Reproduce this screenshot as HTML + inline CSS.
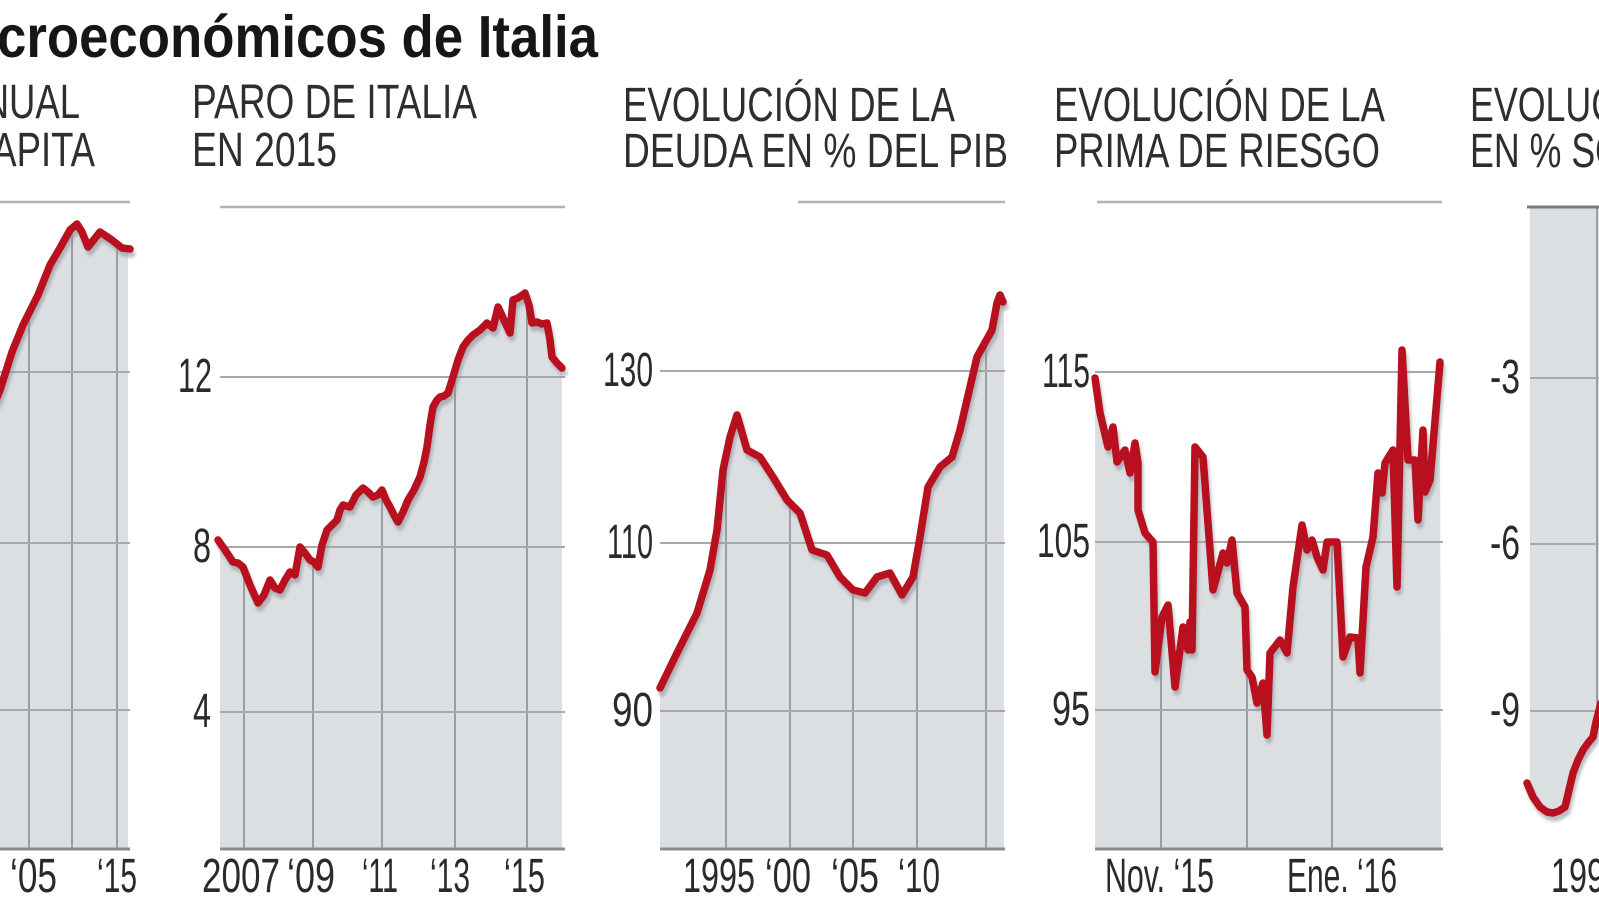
<!DOCTYPE html>
<html>
<head>
<meta charset="utf-8">
<style>
  html, body { margin:0; padding:0; background:#ffffff; }
  svg { display:block; }
  text { font-family: "Liberation Sans", sans-serif; }
  .ttl { font-weight:bold; font-size:59px; fill:#161616; }
  .sub { font-size:48px; fill:#2e2e2e; }
  .tk  { font-size:48px; fill:#2a2a2a; }
  .fill { fill:#dcdfe2; }
  .hg { stroke:#a6a8ab; stroke-width:2; }
  .vg { stroke:#9a9ea3; stroke-width:2; }
  .base { stroke:#8a8c8f; stroke-width:3; }
  .rule { stroke:#b3b3b3; stroke-width:2.5; }
  .ln { fill:none; stroke:#b8101f; stroke-width:7.5; stroke-linejoin:round; stroke-linecap:round; }
  .sh { fill:none; stroke:#8d9297; stroke-width:7; stroke-linejoin:round; stroke-linecap:round; opacity:0.6; }
</style>
</head>
<body>
<svg width="1599" height="900" viewBox="0 0 1599 900" xmlns="http://www.w3.org/2000/svg">
  <defs>
    <filter id="blur" x="-10%" y="-10%" width="120%" height="120%"><feGaussianBlur stdDeviation="1.6"/></filter>
    <clipPath id="c1"><polygon points="0,849 0,390 12,352 23,325 38,295 50,265 60,248 70,230 77,224 82,232 88,247 100,232 112,240 122,248 128,249 128,849"/></clipPath>
    <clipPath id="c2"><polygon points="220,849 220,543 225,550 233,562 238,563 243,567 250,585 258,603 264,595 270,580 275,588 280,590 285,580 290,572 295,575 300,547 305,553 310,560 314,562 318,567 322,545 327,530 332,525 337,520 340,510 343,505 350,507 356,495 363,488 368,492 373,497 378,495 382,490 386,500 390,507 394,515 398,522 403,512 408,500 414,490 420,477 424,462 427,447 430,425 433,407 437,400 440,397 444,396 448,393 453,377 458,360 463,347 468,340 473,335 480,330 487,323 493,328 498,307 504,320 510,333 513,300 518,298 525,293 529,305 532,323 537,322 542,324 547,323 550,340 552,357 557,363 562,368 562,849"/></clipPath>
    <clipPath id="c3"><polygon points="660,849 660,688 677,653 697,613 710,570 717,530 723,470 730,437 737,415 747,450 760,457 773,477 787,500 800,513 812,550 827,555 840,577 853,590 865,593 877,577 890,573 902,595 913,577 920,537 928,487 940,467 952,457 960,430 977,357 992,330 997,303 1000,295 1004,302 1004,849"/></clipPath>
    <clipPath id="c4"><polygon points="1095,849 1095,378 1100,413 1108,447 1113,427 1117,462 1125,450 1130,473 1135,443 1138,463 1138,510 1145,533 1153,542 1155,672 1162,617 1168,605 1175,687 1183,627 1188,650 1190,622 1192,650 1195,447 1203,457 1213,590 1223,553 1227,563 1232,540 1237,593 1245,607 1247,670 1252,677 1257,703 1263,683 1267,735 1270,653 1280,640 1287,653 1293,587 1302,525 1307,550 1312,540 1317,557 1323,570 1327,542 1337,542 1343,657 1350,637 1358,638 1360,673 1366,567 1373,537 1378,473 1382,493 1385,463 1393,450 1397,587 1402,350 1408,460 1415,460 1418,520 1423,430 1425,492 1430,480 1440,362 1441,849"/></clipPath>
    <clipPath id="c5"><polygon points="1530,207 1599,207 1599,705 1596,722 1593,737 1588,743 1583,750 1578,760 1573,773 1569,790 1565,807 1559,811 1553,813 1547,812 1540,807 1533,797 1530,788"/></clipPath>
  </defs>

  <!-- Title -->
  <text class="ttl" x="-3" y="57" textLength="601" lengthAdjust="spacingAndGlyphs">croeconómicos de Italia</text>

  <!-- Subtitles -->
  <text class="sub" text-anchor="end" transform="translate(80,118) scale(0.76,1)">PIB ANUAL</text>
  <text class="sub" text-anchor="end" transform="translate(95,166) scale(0.76,1)">PER CAPITA</text>

  <text class="sub" x="192" y="118" textLength="285" lengthAdjust="spacingAndGlyphs">PARO DE ITALIA</text>
  <text class="sub" x="192" y="166" textLength="145" lengthAdjust="spacingAndGlyphs">EN 2015</text>

  <text class="sub" x="623" y="121" textLength="332" lengthAdjust="spacingAndGlyphs">EVOLUCIÓN DE LA</text>
  <text class="sub" x="623" y="167" textLength="385" lengthAdjust="spacingAndGlyphs">DEUDA EN % DEL PIB</text>

  <text class="sub" x="1054" y="121" textLength="331" lengthAdjust="spacingAndGlyphs">EVOLUCIÓN DE LA</text>
  <text class="sub" x="1054" y="167" textLength="326" lengthAdjust="spacingAndGlyphs">PRIMA DE RIESGO</text>

  <text class="sub" transform="translate(1470,121) scale(0.745,1)">EVOLUCIÓN DEL DÉFICIT</text>
  <text class="sub" transform="translate(1470,167) scale(0.745,1)">EN % SOBRE EL PIB</text>

  <!-- Top rules -->
  <line class="rule" x1="0" y1="202" x2="130" y2="202"/>
  <line class="rule" x1="220" y1="207" x2="565" y2="207"/>
  <line class="rule" x1="798" y1="202" x2="1005" y2="202"/>
  <line class="rule" x1="1097" y1="202" x2="1442" y2="202"/>

  <!-- ===== Chart 1 ===== -->
  <polygon class="fill" points="0,849 0,390 12,352 23,325 38,295 50,265 60,248 70,230 77,224 82,232 88,247 100,232 112,240 122,248 128,249 128,849"/>
  <g clip-path="url(#c1)">
    <line class="vg" x1="29" y1="200" x2="29" y2="849"/>
    <line class="vg" x1="72" y1="200" x2="72" y2="849"/>
    <line class="vg" x1="117" y1="200" x2="117" y2="849"/>
  </g>
  <line class="hg" x1="0" y1="372" x2="130" y2="372"/>
  <line class="hg" x1="0" y1="543" x2="130" y2="543"/>
  <line class="hg" x1="0" y1="710" x2="130" y2="710"/>
  <line class="base" x1="0" y1="849" x2="130" y2="849"/>
  <polyline class="sh" filter="url(#blur)" transform="translate(2,5)" points="-5,402 0,390 12,352 23,325 38,295 50,265 60,248 70,230 77,224 82,232 88,247 100,232 112,240 122,248 130,249"/>
  <polyline class="ln" points="-5,402 0,390 12,352 23,325 38,295 50,265 60,248 70,230 77,224 82,232 88,247 100,232 112,240 122,248 130,249"/>
  <text class="tk" x="10" y="892" textLength="47" lengthAdjust="spacingAndGlyphs">‘05</text>
  <text class="tk" x="97" y="892" textLength="40" lengthAdjust="spacingAndGlyphs">‘15</text>

  <!-- ===== Chart 2 ===== -->
  <polygon class="fill" points="220,849 220,543 225,550 233,562 238,563 243,567 250,585 258,603 264,595 270,580 275,588 280,590 285,580 290,572 295,575 300,547 305,553 310,560 314,562 318,567 322,545 327,530 332,525 337,520 340,510 343,505 350,507 356,495 363,488 368,492 373,497 378,495 382,490 386,500 390,507 394,515 398,522 403,512 408,500 414,490 420,477 424,462 427,447 430,425 433,407 437,400 440,397 444,396 448,393 453,377 458,360 463,347 468,340 473,335 480,330 487,323 493,328 498,307 504,320 510,333 513,300 518,298 525,293 529,305 532,323 537,322 542,324 547,323 550,340 552,357 557,363 562,368 562,849"/>
  <g clip-path="url(#c2)">
    <line class="vg" x1="244" y1="200" x2="244" y2="849"/>
    <line class="vg" x1="313" y1="200" x2="313" y2="849"/>
    <line class="vg" x1="382" y1="200" x2="382" y2="849"/>
    <line class="vg" x1="455" y1="200" x2="455" y2="849"/>
    <line class="vg" x1="527" y1="200" x2="527" y2="849"/>
  </g>
  <line class="hg" x1="220" y1="377" x2="565" y2="377"/>
  <line class="hg" x1="220" y1="547" x2="565" y2="547"/>
  <line class="hg" x1="220" y1="712" x2="565" y2="712"/>
  <line class="base" x1="220" y1="849" x2="565" y2="849"/>
  <polyline class="sh" filter="url(#blur)" transform="translate(2,5)" points="218,540 225,550 233,562 238,563 243,567 250,585 258,603 264,595 270,580 275,588 280,590 285,580 290,572 295,575 300,547 305,553 310,560 314,562 318,567 322,545 327,530 332,525 337,520 340,510 343,505 350,507 356,495 363,488 368,492 373,497 378,495 382,490 386,500 390,507 394,515 398,522 403,512 408,500 414,490 420,477 424,462 427,447 430,425 433,407 437,400 440,397 444,396 448,393 453,377 458,360 463,347 468,340 473,335 480,330 487,323 493,328 498,307 504,320 510,333 513,300 518,298 525,293 529,305 532,323 537,322 542,324 547,323 550,340 552,357 557,363 562,368"/>
  <polyline class="ln" points="218,540 225,550 233,562 238,563 243,567 250,585 258,603 264,595 270,580 275,588 280,590 285,580 290,572 295,575 300,547 305,553 310,560 314,562 318,567 322,545 327,530 332,525 337,520 340,510 343,505 350,507 356,495 363,488 368,492 373,497 378,495 382,490 386,500 390,507 394,515 398,522 403,512 408,500 414,490 420,477 424,462 427,447 430,425 433,407 437,400 440,397 444,396 448,393 453,377 458,360 463,347 468,340 473,335 480,330 487,323 493,328 498,307 504,320 510,333 513,300 518,298 525,293 529,305 532,323 537,322 542,324 547,323 550,340 552,357 557,363 562,368"/>
  <text class="tk" x="178" y="392" textLength="34" lengthAdjust="spacingAndGlyphs">12</text>
  <text class="tk" x="193" y="562" textLength="18" lengthAdjust="spacingAndGlyphs">8</text>
  <text class="tk" x="193" y="727" textLength="18" lengthAdjust="spacingAndGlyphs">4</text>
  <text class="tk" x="202" y="892" textLength="78" lengthAdjust="spacingAndGlyphs">2007</text>
  <text class="tk" x="287" y="892" textLength="48" lengthAdjust="spacingAndGlyphs">‘09</text>
  <text class="tk" x="362" y="892" textLength="36" lengthAdjust="spacingAndGlyphs">‘11</text>
  <text class="tk" x="430" y="892" textLength="40" lengthAdjust="spacingAndGlyphs">‘13</text>
  <text class="tk" x="504" y="892" textLength="41" lengthAdjust="spacingAndGlyphs">‘15</text>

  <!-- ===== Chart 3 ===== -->
  <polygon class="fill" points="660,849 660,688 677,653 697,613 710,570 717,530 723,470 730,437 737,415 747,450 760,457 773,477 787,500 800,513 812,550 827,555 840,577 853,590 865,593 877,577 890,573 902,595 913,577 920,537 928,487 940,467 952,457 960,430 977,357 992,330 997,303 1000,295 1004,302 1004,849"/>
  <g clip-path="url(#c3)">
    <line class="vg" x1="726" y1="200" x2="726" y2="849"/>
    <line class="vg" x1="790" y1="200" x2="790" y2="849"/>
    <line class="vg" x1="853" y1="200" x2="853" y2="849"/>
    <line class="vg" x1="917" y1="200" x2="917" y2="849"/>
    <line class="vg" x1="986" y1="200" x2="986" y2="849"/>
  </g>
  <line class="hg" x1="660" y1="371" x2="1005" y2="371"/>
  <line class="hg" x1="660" y1="543" x2="1005" y2="543"/>
  <line class="hg" x1="660" y1="711" x2="1005" y2="711"/>
  <line class="base" x1="660" y1="849" x2="1005" y2="849"/>
  <polyline class="sh" filter="url(#blur)" transform="translate(2,5)" points="660,688 677,653 697,613 710,570 717,530 723,470 730,437 737,415 747,450 760,457 773,477 787,500 800,513 812,550 827,555 840,577 853,590 865,593 877,577 890,573 902,595 913,577 920,537 928,487 940,467 952,457 960,430 977,357 992,330 997,303 1000,295 1003,302"/>
  <polyline class="ln" points="660,688 677,653 697,613 710,570 717,530 723,470 730,437 737,415 747,450 760,457 773,477 787,500 800,513 812,550 827,555 840,577 853,590 865,593 877,577 890,573 902,595 913,577 920,537 928,487 940,467 952,457 960,430 977,357 992,330 997,303 1000,295 1003,302"/>
  <text class="tk" x="603" y="386" textLength="50" lengthAdjust="spacingAndGlyphs">130</text>
  <text class="tk" x="607" y="558" textLength="46" lengthAdjust="spacingAndGlyphs">110</text>
  <text class="tk" x="612" y="726" textLength="41" lengthAdjust="spacingAndGlyphs">90</text>
  <text class="tk" x="683" y="892" textLength="72" lengthAdjust="spacingAndGlyphs">1995</text>
  <text class="tk" x="765" y="892" textLength="46" lengthAdjust="spacingAndGlyphs">‘00</text>
  <text class="tk" x="831" y="892" textLength="48" lengthAdjust="spacingAndGlyphs">‘05</text>
  <text class="tk" x="898" y="892" textLength="42" lengthAdjust="spacingAndGlyphs">‘10</text>

  <!-- ===== Chart 4 ===== -->
  <polygon class="fill" points="1095,849 1095,378 1100,413 1108,447 1113,427 1117,462 1125,450 1130,473 1135,443 1138,463 1138,510 1145,533 1153,542 1155,672 1162,617 1168,605 1175,687 1183,627 1188,650 1190,622 1192,650 1195,447 1203,457 1213,590 1223,553 1227,563 1232,540 1237,593 1245,607 1247,670 1252,677 1257,703 1263,683 1267,735 1270,653 1280,640 1287,653 1293,587 1302,525 1307,550 1312,540 1317,557 1323,570 1327,542 1337,542 1343,657 1350,637 1358,638 1360,673 1366,567 1373,537 1378,473 1382,493 1385,463 1393,450 1397,587 1402,350 1408,460 1415,460 1418,520 1423,430 1425,492 1430,480 1440,362 1441,849"/>
  <g clip-path="url(#c4)">
    <line class="vg" x1="1161" y1="200" x2="1161" y2="849"/>
    <line class="vg" x1="1247" y1="200" x2="1247" y2="849"/>
    <line class="vg" x1="1332" y1="200" x2="1332" y2="849"/>
  </g>
  <line class="hg" x1="1095" y1="372" x2="1443" y2="372"/>
  <line class="hg" x1="1095" y1="542" x2="1443" y2="542"/>
  <line class="hg" x1="1095" y1="710" x2="1443" y2="710"/>
  <line class="base" x1="1095" y1="849" x2="1443" y2="849"/>
  <polyline class="sh" filter="url(#blur)" transform="translate(2,5)" points="1095,378 1100,413 1108,447 1113,427 1117,462 1125,450 1130,473 1135,443 1138,463 1138,510 1145,533 1153,542 1155,672 1162,617 1168,605 1175,687 1183,627 1188,650 1190,622 1192,650 1195,447 1203,457 1213,590 1223,553 1227,563 1232,540 1237,593 1245,607 1247,670 1252,677 1257,703 1263,683 1267,735 1270,653 1280,640 1287,653 1293,587 1302,525 1307,550 1312,540 1317,557 1323,570 1327,542 1337,542 1343,657 1350,637 1358,638 1360,673 1366,567 1373,537 1378,473 1382,493 1385,463 1393,450 1397,587 1402,350 1408,460 1415,460 1418,520 1423,430 1425,492 1430,480 1440,362"/>
  <polyline class="ln" points="1095,378 1100,413 1108,447 1113,427 1117,462 1125,450 1130,473 1135,443 1138,463 1138,510 1145,533 1153,542 1155,672 1162,617 1168,605 1175,687 1183,627 1188,650 1190,622 1192,650 1195,447 1203,457 1213,590 1223,553 1227,563 1232,540 1237,593 1245,607 1247,670 1252,677 1257,703 1263,683 1267,735 1270,653 1280,640 1287,653 1293,587 1302,525 1307,550 1312,540 1317,557 1323,570 1327,542 1337,542 1343,657 1350,637 1358,638 1360,673 1366,567 1373,537 1378,473 1382,493 1385,463 1393,450 1397,587 1402,350 1408,460 1415,460 1418,520 1423,430 1425,492 1430,480 1440,362"/>
  <text class="tk" x="1042" y="387" textLength="48" lengthAdjust="spacingAndGlyphs">115</text>
  <text class="tk" x="1037" y="557" textLength="53" lengthAdjust="spacingAndGlyphs">105</text>
  <text class="tk" x="1052" y="725" textLength="38" lengthAdjust="spacingAndGlyphs">95</text>
  <text class="tk" x="1105" y="892" textLength="109" lengthAdjust="spacingAndGlyphs">Nov. ‘15</text>
  <text class="tk" x="1287" y="892" textLength="110" lengthAdjust="spacingAndGlyphs">Ene. ‘16</text>

  <!-- ===== Chart 5 ===== -->
  <polygon class="fill" points="1530,207 1599,207 1599,705 1596,722 1593,737 1588,743 1583,750 1578,760 1573,773 1569,790 1565,807 1559,811 1553,813 1547,812 1540,807 1533,797 1530,788"/>
  <g clip-path="url(#c5)">
    <line class="vg" x1="1597" y1="200" x2="1597" y2="849"/>
  </g>
  <line x1="1527" y1="207" x2="1599" y2="207" stroke="#7a7a7a" stroke-width="3"/>
  <line class="hg" x1="1530" y1="378" x2="1599" y2="378"/>
  <line class="hg" x1="1530" y1="544" x2="1599" y2="544"/>
  <line class="hg" x1="1530" y1="711" x2="1599" y2="711"/>
  <polyline class="sh" filter="url(#blur)" transform="translate(2,5)" points="1527,783 1533,797 1540,807 1547,812 1553,813 1559,811 1565,807 1569,790 1573,773 1578,760 1583,750 1588,743 1593,737 1596,722 1601,703"/>
  <polyline class="ln" points="1527,783 1533,797 1540,807 1547,812 1553,813 1559,811 1565,807 1569,790 1573,773 1578,760 1583,750 1588,743 1593,737 1596,722 1601,703"/>
  <text class="tk" x="1490" y="393" textLength="30" lengthAdjust="spacingAndGlyphs">-3</text>
  <text class="tk" x="1490" y="559" textLength="30" lengthAdjust="spacingAndGlyphs">-6</text>
  <text class="tk" x="1490" y="726" textLength="30" lengthAdjust="spacingAndGlyphs">-9</text>
  <text class="tk" x="1551" y="892" textLength="72" lengthAdjust="spacingAndGlyphs">1995</text>
</svg>
</body>
</html>
